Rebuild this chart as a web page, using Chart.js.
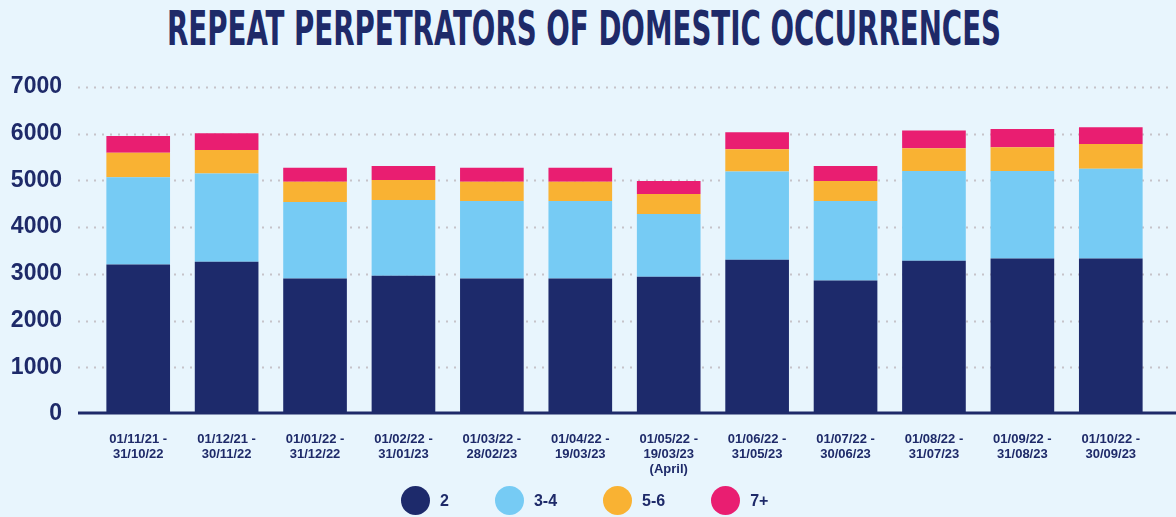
<!DOCTYPE html>
<html>
<head>
<meta charset="utf-8">
<script src="https://cdn.jsdelivr.net/npm/chart.js@4"></script>
<style>
  html, body { margin: 0; padding: 0; background: #e8f5fd; }
  #wrap { position: relative; width: 1176px; height: 517px; overflow: hidden; }
  #title {
    position: absolute; left: 167px; top: 0px;
    font-family: "Liberation Sans Narrow", "DejaVu Sans Condensed", "Liberation Sans", sans-serif;
    font-weight: bold; font-size: 48px; line-height: 56px;
    color: #1e2a69; white-space: nowrap;
    transform-origin: 0 0;
  }
  #legend {
    position: absolute; left: 401px; top: 486px;
    display: flex; align-items: center; gap: 46px;
    font-family: "Liberation Sans", Arial, sans-serif; font-weight: bold; font-size: 16px;
    color: #1e2a69;
  }
  #legend .item { display: flex; align-items: center; gap: 10px; }
  #legend .dot { width: 29px; height: 29px; border-radius: 50%; }
  canvas { position: absolute; left: 0; top: 0; }
</style>
</head>
<body>
<div id="wrap">
  <div id="title">REPEAT PERPETRATORS OF DOMESTIC OCCURRENCES</div>
  <canvas id="chart" width="1176" height="517"></canvas>
  <div id="legend"></div>
</div>
<script>
const periods = [
  ['01/11/21 -', '31/10/22'],
  ['01/12/21 -', '30/11/22'],
  ['01/01/22 -', '31/12/22'],
  ['01/02/22 -', '31/01/23'],
  ['01/03/22 -', '28/02/23'],
  ['01/04/22 -', '19/03/23'],
  ['01/05/22 -', '19/03/23', '(April)'],
  ['01/06/22 -', '31/05/23'],
  ['01/07/22 -', '30/06/23'],
  ['01/08/22 -', '31/07/23'],
  ['01/09/22 -', '31/08/23'],
  ['01/10/22 -', '30/09/23']
];

const twice   = [3200, 3260, 2900, 2960, 2900, 2900, 2940, 3300, 2860, 3280, 3330, 3330];
const three4  = [1870, 1890, 1640, 1620, 1660, 1660, 1340, 1890, 1700, 1920, 1870, 1920];
const five6   = [520, 500, 430, 430, 410, 410, 430, 480, 430, 490, 510, 530];
const sevenUp = [360, 360, 300, 300, 300, 300, 280, 360, 320, 380, 390, 360];

const seriesNames = ['2', '3-4', '5-6', '7+'];
const colours = ['#1d2a6b', '#76cbf4', '#f9b233', '#e91e71'];

const navy = '#1e2a69';

// title is stretched to the width of the plot header
const $title = document.getElementById('title');
const titleW = $title.getBoundingClientRect().width;
$title.style.transform = 'scaleX(' + (834 / titleW) + ')';

// dotted guide lines and the heavy baseline
const guides = {
  id: 'guides',
  beforeDatasetsDraw(chart) {
    const { ctx, scales: { y } } = chart;
    ctx.save();
    ctx.strokeStyle = '#c6c3c9';
    ctx.lineWidth = 2;
    ctx.setLineDash([2, 6]);
    y.ticks.forEach(t => {
      if (t.value === 0) return;
      const py = Math.round(y.getPixelForValue(t.value)) + 0.5;
      ctx.beginPath();
      ctx.moveTo(78, py);
      ctx.lineTo(1170, py);
      ctx.stroke();
    });
    ctx.restore();
  },
  afterDatasetsDraw(chart) {
    const { ctx, scales: { y } } = chart;
    const py = y.getPixelForValue(0);
    ctx.save();
    ctx.strokeStyle = navy;
    ctx.lineWidth = 3;
    ctx.beginPath();
    ctx.moveTo(78, py - 1);
    ctx.lineTo(1176, py - 1);
    ctx.stroke();
    ctx.restore();
  }
};

const ctx = document.getElementById('chart').getContext('2d');
const values = [twice, three4, five6, sevenUp];

new Chart(ctx, {
  type: 'bar',
  data: {
    labels: periods,
    datasets: values.map((v, i) => ({
      label: seriesNames[i],
      data: v,
      backgroundColor: colours[i],
      borderWidth: 0,
      categoryPercentage: 0.72,
      barPercentage: 1
    }))
  },
  options: {
    responsive: false,
    animation: false,
    layout: { padding: { top: 87, right: 21, bottom: 33, left: 0 } },
    scales: {
      x: {
        stacked: true,
        grid: { display: false },
        border: { display: false },
        ticks: {
          color: navy,
          padding: 10,
          maxRotation: 0,
          autoSkip: false,
          font: { family: 'Liberation Sans', size: 13, weight: 'bold', lineHeight: 1.15 }
        },
        afterFit(scale) { scale.height = 70; }
      },
      y: {
        stacked: true,
        min: 0,
        max: 7000,
        grid: { display: false, drawTicks: false },
        border: { display: false },
        ticks: {
          stepSize: 1000,
          color: navy,
          padding: 32,
          callback: v => String(v),
          font: { family: 'Liberation Sans', size: 23, weight: 'bold' }
        },
        afterFit(scale) { scale.width = 94; }
      }
    },
    plugins: {
      legend: { display: false },
      tooltip: { enabled: false }
    }
  },
  plugins: [guides]
});

// legend row under the chart
const $legend = document.getElementById('legend');
seriesNames.forEach((name, i) => {
  const item = document.createElement('div');
  item.className = 'item';
  const dot = document.createElement('span');
  dot.className = 'dot';
  dot.style.background = colours[i];
  const txt = document.createElement('span');
  txt.textContent = name;
  item.appendChild(dot);
  item.appendChild(txt);
  $legend.appendChild(item);
});
</script>
</body>
</html>
